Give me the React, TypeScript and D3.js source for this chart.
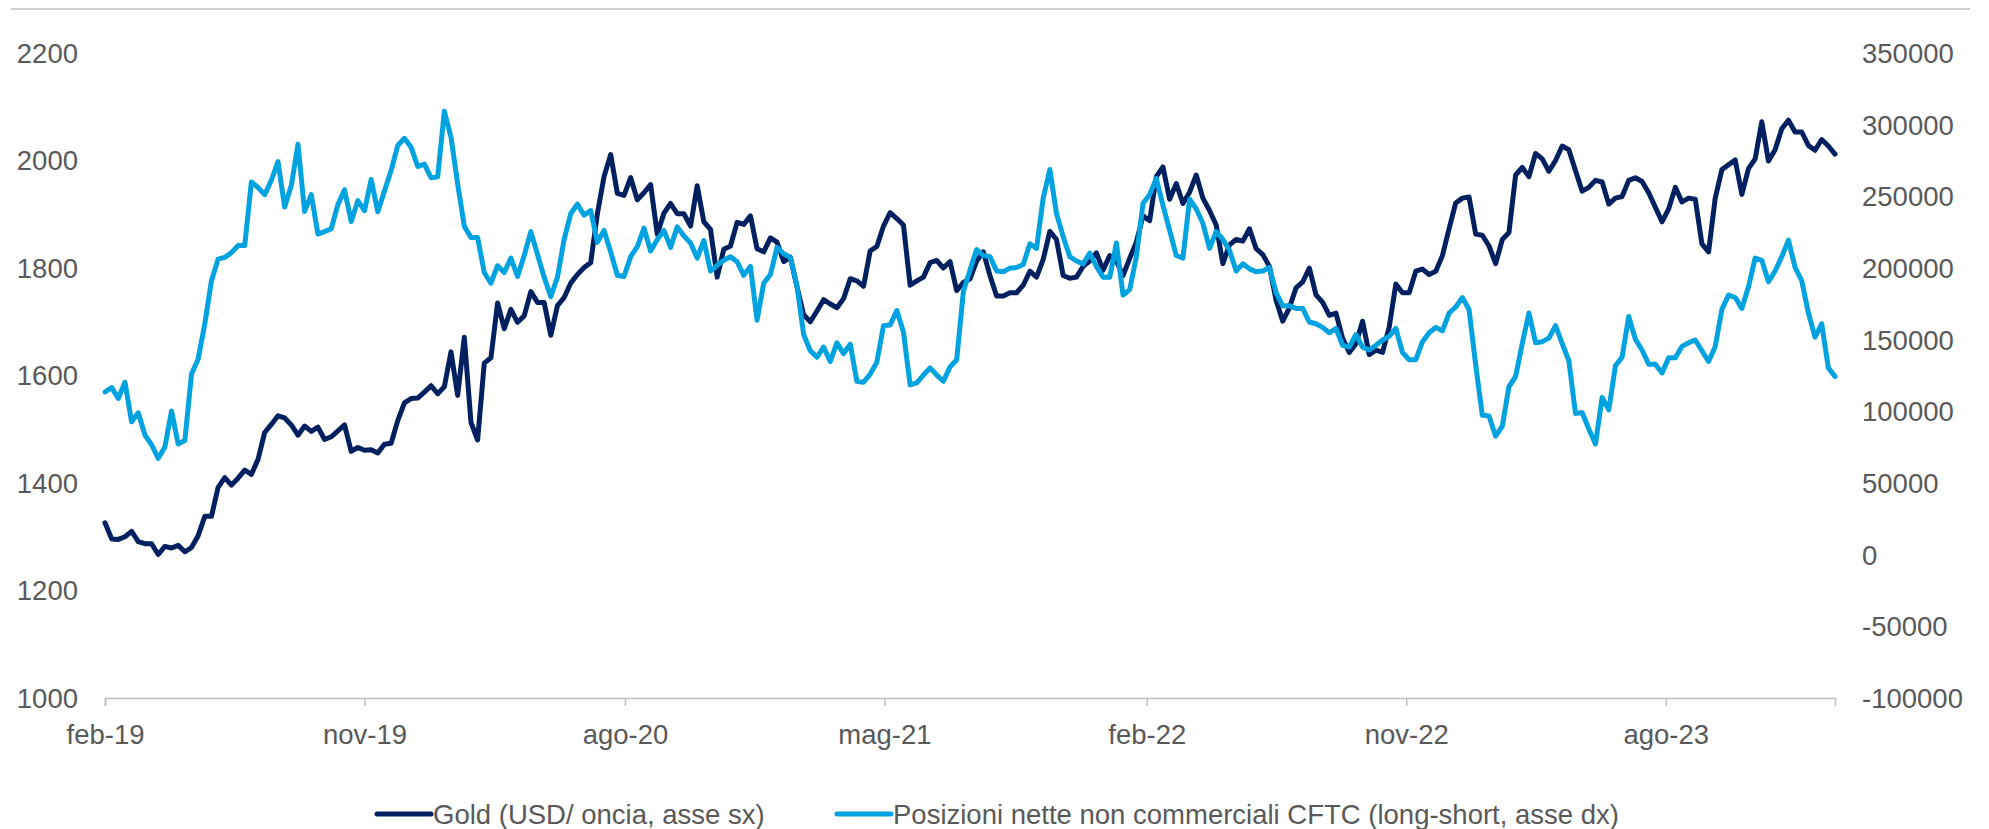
import React, { useEffect, useRef } from 'react';
import * as d3 from 'd3';

// weekly observations, first one at start of feb-19
const startDate = new Date(Date.UTC(2019, 1, 1));

const goldValues = [
  1326, 1296, 1295, 1300, 1310, 1291, 1287, 1287, 1267, 1282,
  1279, 1284, 1272, 1280, 1302, 1338, 1338, 1392, 1410, 1396,
  1409, 1424, 1416, 1444, 1494, 1509, 1525, 1521, 1508, 1489,
  1506, 1496, 1504, 1481, 1486, 1497, 1508, 1459, 1466, 1461,
  1462, 1456, 1472, 1474, 1516, 1549, 1557, 1558, 1569, 1581,
  1566, 1579, 1644, 1563, 1671, 1513, 1480, 1623, 1633, 1735,
  1687, 1723, 1699, 1711, 1756, 1736, 1736, 1675, 1730, 1745,
  1772, 1788, 1801, 1810, 1901, 1970, 2011, 1939, 1935, 1968,
  1927, 1940, 1955, 1863, 1902, 1920, 1901, 1901, 1878, 1953,
  1886, 1872, 1783, 1835, 1841, 1885, 1881, 1897, 1836, 1830,
  1856, 1848, 1812, 1820, 1765, 1713, 1700, 1720, 1741, 1733,
  1726, 1743, 1780, 1776, 1766, 1832, 1840, 1878, 1903, 1892,
  1880, 1768, 1776, 1783, 1810, 1814, 1800, 1812, 1758, 1773,
  1780, 1813, 1830, 1786, 1748, 1748, 1754, 1754, 1768, 1794,
  1783, 1816, 1868, 1853, 1786, 1781, 1783, 1803, 1813, 1828,
  1796, 1823, 1813, 1786, 1818, 1848, 1897, 1888, 1970, 1988,
  1928, 1957, 1920, 1941, 1973, 1930, 1907, 1880, 1808, 1843,
  1853, 1850, 1873, 1836, 1825, 1803, 1740, 1701, 1726, 1763,
  1774, 1800, 1750, 1736, 1712, 1716, 1669, 1643, 1659, 1701,
  1639, 1647, 1643, 1690, 1770, 1754, 1754, 1794, 1798, 1788,
  1794, 1823, 1873, 1921, 1930, 1932, 1863, 1861, 1841, 1808,
  1853, 1866, 1973, 1987, 1970, 2013, 2003, 1980, 2000, 2027,
  2020, 1981, 1943, 1950, 1963, 1960, 1919, 1930, 1933, 1963,
  1968, 1961, 1940, 1913, 1886, 1910, 1950, 1923, 1930, 1928,
  1845, 1830, 1930, 1983, 1992, 2001, 1937, 1985, 2003, 2072,
  1999, 2020, 2059, 2075, 2053, 2053, 2028, 2019, 2039, 2027,
  2012,
];

const cftcValues = [
  113500, 116500, 109000, 120300, 92700, 99000, 83500, 76700, 67200, 75200,
  100200, 77200, 79700, 126000, 136500, 161100, 191100, 206200, 207400, 210700,
  215700, 215700, 260000, 256200, 251200, 261200, 274300, 242500, 257500, 286300,
  239500, 251200, 223700, 225400, 227400, 244200, 254500, 232400, 247000, 240000,
  261700, 239200, 253700, 268000, 285500, 290500, 284300, 270800, 272500, 263000,
  263700, 309300, 291300, 258700, 229200, 221200, 221200, 196900, 189400, 201600,
  196900, 206900, 194100, 208700, 225400, 209400, 193600, 179900, 193600, 219900,
  238000, 244500, 236900, 240000, 217900, 226200, 211200, 194900, 194100, 207900,
  214900, 227900, 211900, 219900, 226200, 214400, 228700, 222400, 217400, 206900,
  219200, 197900, 201900, 205400, 207900, 204400, 194900, 201100, 163600, 189400,
  195400, 214400, 209900, 207400, 187400, 153600, 142300, 137800, 144800, 134800,
  147800, 140300, 146800, 121000, 120300, 126000, 134300, 159800, 160300, 170300,
  155300, 118500, 119800, 125300, 130300, 125300, 121000, 131000, 136000, 183600,
  198600, 212900, 208700, 207900, 197900, 197400, 199900, 200400, 202400, 216900,
  213700, 248700, 268700, 238000, 221900, 207900, 204900, 202900, 210400, 201100,
  193600, 193600, 217400, 181100, 184900, 207900, 245000, 251200, 262500, 243700,
  226200, 208700, 206900, 248000, 241200, 231200, 213700, 225400, 219900, 212400,
  197900, 202900, 199400, 197400, 197900, 200400, 182900, 173600, 173600, 171800,
  171800, 162300, 161100, 158600, 154800, 157800, 146100, 144800, 153600, 144800,
  142800, 146100, 149800, 152300, 157800, 141000, 136000, 136000, 148600, 154800,
  158600, 156100, 168600, 172800, 179400, 171100, 132300, 97200, 96700, 82700,
  89700, 117300, 124300, 147300, 168600, 147800, 148600, 151100, 159800, 147300,
  135300, 98500, 99200, 87700, 77200, 109700, 101000, 131800, 137800, 166100,
  150300, 142800, 132800, 132800, 126800, 137300, 137300, 145300, 147800, 149800,
  142300, 134800, 145300, 171100, 181100, 179400, 171800, 186900, 206900, 205400,
  190400, 197900, 207900, 219400, 200400, 191100, 168600, 151800, 161100, 130300,
  124300,
];

const xTickDates = [
  Date.UTC(2019, 1, 1), Date.UTC(2019, 10, 1), Date.UTC(2020, 7, 1), Date.UTC(2021, 4, 1),
  Date.UTC(2022, 1, 1), Date.UTC(2022, 10, 1), Date.UTC(2023, 7, 1),
];
const xTickLabels = ['feb-19', 'nov-19', 'ago-20', 'mag-21', 'feb-22', 'nov-22', 'ago-23'];
const leftTicks = [1000, 1200, 1400, 1600, 1800, 2000, 2200];
const rightTicks = [-100000, -50000, 0, 50000, 100000, 150000, 200000, 250000, 300000, 350000];
const seriesNames = ['Gold (USD/ oncia, asse sx)', 'Posizioni nette non commerciali CFTC (long-short, asse dx)'];
const seriesColors = ['#002060', '#00a3e0'];

const W = 1989;
const H = 829;
const FONT = "'Liberation Sans', Arial, sans-serif";
const FS = 27.5;
const TEXT = '#595959';
const GRAY = '#bfbfbf';

const App: React.FC = () => {
  const svgRef = useRef<SVGSVGElement>(null);

  useEffect(() => {
    if (!svgRef.current) return;
    const svg = d3.select(svgRef.current);
    svg.selectAll('*').remove();

    const margin = { top: 53, right: 154, bottom: 131, left: 105 };
    const dates = goldValues.map((_, i) => d3.utcDay.offset(startDate, 7 * i));

    const x = d3.scaleUtc()
      .domain([startDate, dates[dates.length - 1]])
      .range([margin.left, W - margin.right]);
    const yL = d3.scaleLinear().domain([1000, 2200]).range([H - margin.bottom, margin.top]);
    const yR = d3.scaleLinear().domain([-100000, 350000]).range([H - margin.bottom, margin.top]);

    // top rule
    svg.append('line')
      .attr('x1', 11).attr('x2', 1970).attr('y1', 9).attr('y2', 9)
      .attr('stroke', GRAY).attr('stroke-width', 1.5);

    // x axis
    const xAxis = svg.append('g')
      .attr('transform', `translate(0,${yL(1000)})`)
      .call(d3.axisBottom(x)
        .tickValues(xTickDates.map(d => new Date(d)))
        .tickSize(8)
        .tickFormat((_, i) => xTickLabels[i]));
    xAxis.select('.domain').attr('stroke', GRAY).attr('stroke-width', 1.5);
    xAxis.selectAll('.tick line').attr('stroke', GRAY).attr('stroke-width', 1.5);
    xAxis.selectAll('.tick text')
      .attr('fill', TEXT).attr('font-family', FONT).attr('font-size', FS)
      .attr('y', 26).attr('dy', '0.71em');

    // left axis labels
    svg.append('g').selectAll('text').data(leftTicks).join('text')
      .attr('x', 78).attr('y', d => yL(d)).attr('dy', '0.36em')
      .attr('text-anchor', 'end')
      .attr('fill', TEXT).attr('font-family', FONT).attr('font-size', FS)
      .text(d => String(d));

    // right axis labels
    svg.append('g').selectAll('text').data(rightTicks).join('text')
      .attr('x', 1862).attr('y', d => yR(d)).attr('dy', '0.36em')
      .attr('text-anchor', 'start')
      .attr('fill', TEXT).attr('font-family', FONT).attr('font-size', FS)
      .text(d => String(d));

    const goldLine = d3.line<number>().x((_, i) => x(dates[i])).y(d => yL(d));
    const cftcLine = d3.line<number>().x((_, i) => x(dates[i])).y(d => yR(d));

    svg.append('path').datum(goldValues)
      .attr('fill', 'none').attr('stroke', seriesColors[0]).attr('stroke-width', 5)
      .attr('stroke-linejoin', 'round').attr('stroke-linecap', 'round')
      .attr('d', goldLine);

    svg.append('path').datum(cftcValues)
      .attr('fill', 'none').attr('stroke', seriesColors[1]).attr('stroke-width', 5)
      .attr('stroke-linejoin', 'round').attr('stroke-linecap', 'round')
      .attr('d', cftcLine);

    // legend
    const legendX = [377, 837];
    const legend = svg.append('g');
    seriesNames.forEach((name, i) => {
      legend.append('line')
        .attr('x1', legendX[i]).attr('x2', legendX[i] + 54)
        .attr('y1', 814).attr('y2', 814)
        .attr('stroke', seriesColors[i]).attr('stroke-width', 5)
        .attr('stroke-linecap', 'round');
      legend.append('text')
        .attr('x', legendX[i] + 56).attr('y', 814).attr('dy', '0.36em')
        .attr('fill', TEXT).attr('font-family', FONT).attr('font-size', FS)
        .text(name);
    });
  }, []);

  return (
    <svg
      ref={svgRef}
      width={W}
      height={H}
      style={{ position: 'absolute', left: 0, top: 0, background: '#fff', display: 'block' }}
    />
  );
};

export default App;
